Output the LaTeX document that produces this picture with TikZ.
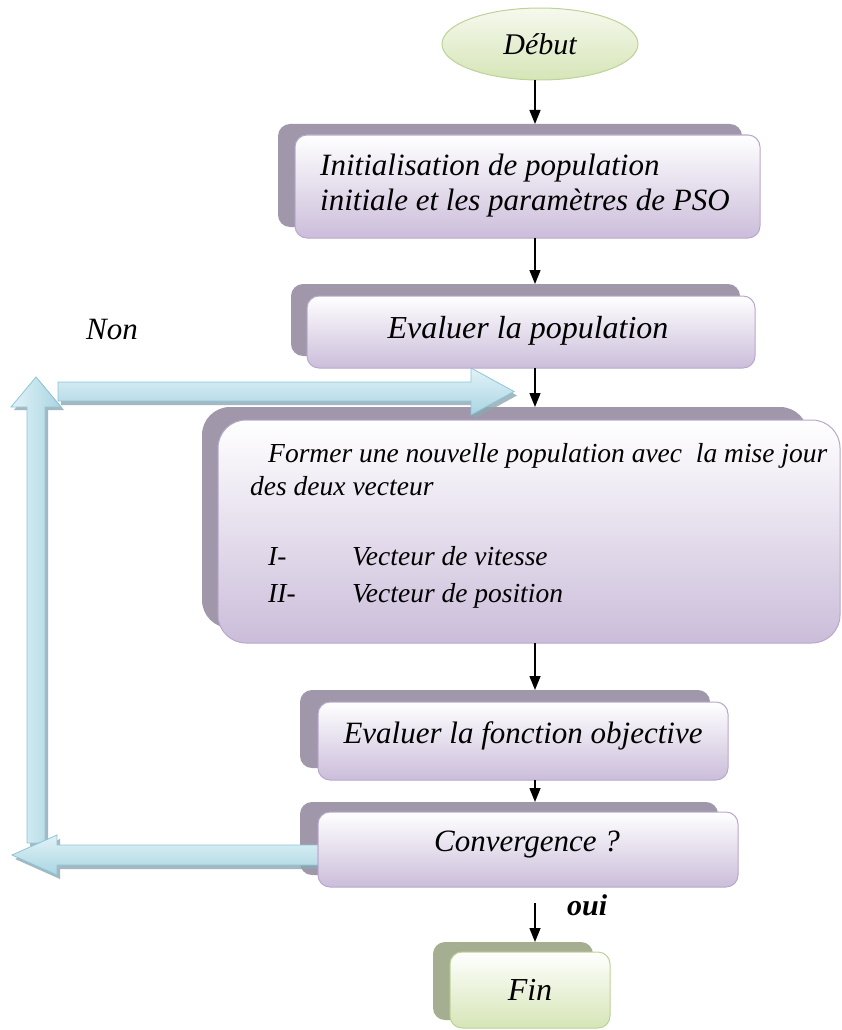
\documentclass[tikz,border=0pt]{standalone}
\usepackage{fontspec}
\setmainfont{Liberation Serif}
\usetikzlibrary{arrows.meta,shapes.geometric}

\definecolor{lavbot}{HTML}{CBBDDA}
\definecolor{lavline}{HTML}{B9A8CD}
\definecolor{shadowpurple}{HTML}{A097AB}
\definecolor{greentop}{HTML}{F6F9EE}
\definecolor{greenbot}{HTML}{D6E5B7}
\definecolor{greenline}{HTML}{BDD296}
\definecolor{shadowgreen}{HTML}{A6AE92}
\definecolor{bluelight}{HTML}{E2F2F7}
\definecolor{bluefill}{HTML}{A9D5E2}
\definecolor{blueline}{HTML}{8CC6D6}
\definecolor{blueshadow}{HTML}{8DA6B1}

\begin{document}
\begin{tikzpicture}[x=1pt,y=-1pt,
  shad/.style={fill=shadowpurple, draw=none, inner sep=0pt, outer sep=0pt},
  card/.style={top color=white, bottom color=lavbot, draw=lavline, line width=1pt,
               inner sep=0pt, outer sep=0pt},
  gshad/.style={fill=shadowgreen, draw=none, inner sep=0pt, outer sep=0pt, rounded corners=12pt},
  gcard/.style={top color=white, bottom color=greenbot, draw=greenline, line width=1pt,
                inner sep=0pt, outer sep=0pt, rounded corners=12pt},
  txt/.style={inner sep=0pt, anchor=base, font=\fontsize{#1}{#1}\selectfont\itshape},
  txtw/.style={inner sep=0pt, anchor=base west, font=\fontsize{#1}{#1}\selectfont\itshape},
  flow/.style={-{Triangle[width=11pt,length=14pt]}, line width=1.4pt, black},
  hblock/.style={top color=bluelight, bottom color=bluefill, draw=blueline, line width=0.8pt},
  vblock/.style={left color=bluelight, right color=bluefill, draw=blueline, line width=0.8pt},
  bshadow/.style={fill=blueshadow, opacity=0.8, draw=none},
]
\useasboundingbox (0,0) rectangle (842,1030);

% ---------- start ellipse ----------
\node[ellipse, minimum width=196pt, minimum height=72pt, top color=greentop,
      bottom color=greenbot, draw=greenline, line width=1pt, inner sep=0pt,
      font=\fontsize{30}{30}\selectfont\itshape] (deb) at (540,44) {Début};

% ---------- back plates ----------
\node[shad, rounded corners=12pt, minimum width=464pt, minimum height=103pt] (s1) at (510,175.5) {};
\node[shad, rounded corners=12pt, minimum width=449pt, minimum height=72pt]  (s2) at (515.5,320) {};
\node[shad, rounded corners=28pt, minimum width=606pt, minimum height=221pt] (s3) at (505,517.5) {};
\node[shad, rounded corners=12pt, minimum width=410pt, minimum height=78pt]  (s4) at (505,729) {};
\node[shad, rounded corners=12pt, minimum width=418pt, minimum height=73pt]  (s5) at (509,838.5) {};
\node[gshad, minimum width=160pt, minimum height=78pt] (s6) at (513,981) {};

% ---------- loop-back block arrows (drawn before the boxes) ----------
% shadows
\fill[bshadow] (320,849) -- (60,849) -- (60,839) -- (15,859) -- (60,879) -- (60,869) -- (320,869) -- cycle;
\fill[bshadow] (30,846) -- (30,410) -- (14,410) -- (39,380) -- (64,410) -- (48,410) -- (48,846) -- cycle;
\fill[bshadow] (61,386) -- (474,386) -- (474,372) -- (517,395.5) -- (474,419) -- (474,405) -- (61,405) -- cycle;
% bodies
\path[vblock] (27,843) -- (27,407) -- (11,407) -- (36,377) -- (61,407) -- (45,407) -- (45,843) -- cycle;
\path[hblock] (318,845) -- (57,845) -- (57,835) -- (12,855) -- (57,875) -- (57,865) -- (318,865) -- cycle;
\path[hblock] (58,382) -- (471,382) -- (471,368) -- (514,391.5) -- (471,415) -- (471,401) -- (58,401) -- cycle;

% ---------- front cards ----------
\node[card, rounded corners=12pt, minimum width=465pt, minimum height=103pt] (b1) at (527.5,186.5) {};
\node[card, rounded corners=12pt, minimum width=448pt, minimum height=72pt]  (b2) at (531,332) {};
\node[card, rounded corners=28pt, minimum width=622pt, minimum height=223pt] (b3) at (529,531.5) {};
\node[card, rounded corners=12pt, minimum width=410pt, minimum height=78pt]  (b4) at (523,741) {};
\node[card, rounded corners=12pt, minimum width=420pt, minimum height=75pt]  (b5) at (528,849.5) {};
\node[gcard, minimum width=160pt, minimum height=76pt,
      font=\fontsize{32}{32}\selectfont\itshape] (fin) at (530,990) {Fin};

% ---------- texts ----------
\node[txtw=31] (t1a) at (320,175) {Initialisation de population};
\node[txtw=31] (t1b) at (320,210) {initiale et les paramètres de PSO};
\node[txt=32]  (t2)  at (528,338) {Evaluer la population};
\node[txtw=27.5] (t3a) at (268,462) {Former une nouvelle population avec~ la mise jour};
\node[txtw=27.5] (t3b) at (250,495) {des deux vecteur};
\node[txtw=27.5] (t3c) at (268,565) {I-};
\node[txtw=27.5] (t3d) at (352,565) {Vecteur de vitesse};
\node[txtw=27.5] (t3e) at (268,602) {II-};
\node[txtw=27.5] (t3f) at (352,602) {Vecteur de position};
\node[txt=31]  (t4)  at (523,743) {Evaluer la fonction objective};
\node[txt=31]  (t5)  at (527,851) {Convergence ?};
\node[txtw=31] (non) at (86,339) {Non};
\node[inner sep=0pt, anchor=base west, font=\fontsize{30}{30}\selectfont\bfseries\itshape]
     (oui) at (567,915) {oui};

% ---------- flow connectors ----------
\coordinate (ax) at (535,0);
\coordinate (ouistart) at (535,903);
\draw[flow] (deb.south -| ax) -- (s1.north -| ax);
\draw[flow] (b1.south -| ax) -- (s2.north -| ax);
\draw[flow] (b2.south -| ax) -- (s3.north -| ax);
\draw[flow] (b3.south -| ax) -- (s4.north -| ax);
\draw[flow] (b4.south -| ax) -- (s5.north -| ax);
\draw[flow] (ouistart) -- (s6.north -| ax);
\end{tikzpicture}
\end{document}
